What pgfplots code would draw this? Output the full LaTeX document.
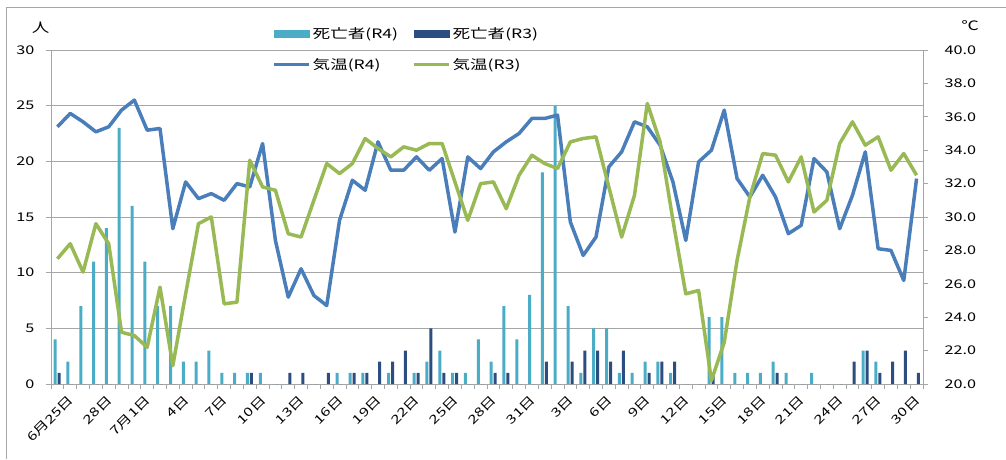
\documentclass[border=0pt]{standalone}
\usepackage{pgfplots}
\pgfplotsset{compat=1.18}
\usepackage{pgfplotstable}
\usepackage{fontspec}
\setmainfont{Noto Sans CJK JP}[FakeStretch=1.35]
\definecolor{barRfour}{HTML}{4BACC6}
\definecolor{barRthree}{HTML}{2C4D7F}
\definecolor{lineRfour}{HTML}{4A7EBB}
\definecolor{lineRthree}{HTML}{98B954}
\definecolor{gridc}{HTML}{A6A6A6}
\pgfplotstableread{
i d4 d3 t4 t3
0 4 1 35.4 27.5
1 2 0 36.2 28.4
2 7 0 35.7 26.7
3 11 0 35.1 29.6
4 14 0 35.4 28.4
5 23 0 36.4 23.1
6 16 0 37.0 22.9
7 11 0 35.2 22.2
8 7 0 35.3 25.8
9 7 0 29.3 21.1
10 2 0 32.1 25.4
11 2 0 31.1 29.6
12 3 0 31.4 30.0
13 1 0 31.0 24.8
14 1 0 32.0 24.9
15 1 1 31.8 33.4
16 1 0 34.4 31.8
17 0 0 28.6 31.6
18 0 1 25.2 29.0
19 0 1 26.9 28.8
20 0 0 25.3 31.0
21 0 1 24.7 33.2
22 1 0 29.8 32.6
23 1 1 32.2 33.2
24 1 1 31.6 34.7
25 0 2 34.5 34.1
26 1 2 32.8 33.6
27 0 3 32.8 34.2
28 1 1 33.6 34.0
29 2 5 32.8 34.4
30 3 1 33.5 34.4
31 1 1 29.1 32.1
32 1 0 33.6 29.8
33 4 0 32.9 32.0
34 2 1 33.9 32.1
35 7 1 34.5 30.5
36 4 0 35.0 32.5
37 8 0 35.9 33.7
38 19 2 35.9 33.2
39 25 0 36.1 32.9
40 7 2 29.7 34.5
41 1 3 27.7 34.7
42 5 3 28.8 34.8
43 5 2 33.0 31.8
44 1 3 33.9 28.8
45 1 0 35.7 31.3
46 2 1 35.4 36.8
47 2 2 34.3 34.5
48 1 2 32.1 29.8
49 0 0 28.6 25.4
50 0 0 33.3 25.6
51 6 1 34.0 20.2
52 6 0 36.4 22.5
53 1 0 32.3 27.4
54 1 0 31.2 31.2
55 1 0 32.5 33.8
56 2 1 31.2 33.7
57 1 0 29.0 32.1
58 0 0 29.5 33.6
59 1 0 33.5 30.3
60 0 0 32.7 31.0
61 0 0 29.3 34.4
62 0 2 31.3 35.7
63 3 3 33.9 34.3
64 2 1 28.1 34.8
65 0 2 28.0 32.8
66 0 3 26.2 33.8
67 0 1 32.3 32.5
}\data
\begin{document}
\begin{tikzpicture}
\useasboundingbox (0,0) rectangle (1006pt,459pt);
\draw[gridc, line width=0.8pt] (6pt,0pt) -- (6pt,452pt) -- (1006pt,452pt);
\begin{axis}[
  at={(51pt,75pt)}, anchor=south west,
  scale only axis, width=872pt, height=334pt,
  xmin=-0.5, xmax=67.5, ymin=0, ymax=30,
  axis y line*=left, axis x line*=bottom,
  axis line style={gridc, line width=0.8pt, -},
  ytick={0,5,...,30},
  ymajorgrids, grid style={gridc, line width=0.8pt},
  tick align=outside,
  major tick length=5pt, minor tick length=5pt,
  every major y tick/.append style={gridc, line width=0.8pt},
  xtick={0,3,...,66},
  xticklabels={6月25日,28日,7月1日,4日,7日,10日,13日,16日,19日,22日,25日,28日,31日,3日,6日,9日,12日,15日,18日,21日,24日,27日,30日},
  every major x tick/.append style={draw=none},
  minor xtick={-0.5,0.5,...,67.5},
  every minor x tick/.append style={gridc, line width=0.8pt},
  x tick label style={rotate=45, anchor=east, xshift=7pt, yshift=-16pt, font=\fontsize{12}{14}\selectfont},
  y tick label style={font=\fontsize{12}{14}\selectfont, xshift=-8pt},
  /pgf/number format/assume math mode=true,
]
\addplot[ybar, bar width=3pt, bar shift=-2.3pt, fill=barRfour, draw=none] table[x=i, y=d4] {\data};
\addplot[ybar, bar width=3pt, bar shift=1.7pt, fill=barRthree, draw=none] table[x=i, y=d3] {\data};
\end{axis}
\begin{axis}[
  at={(51pt,75pt)}, anchor=south west,
  scale only axis, width=872pt, height=334pt,
  xmin=-0.5, xmax=67.5, ymin=20, ymax=40,
  axis y line*=right, axis x line=none,
  axis line style={gridc, line width=0.8pt, -},
  ytick={20,22,...,40},
  tick align=outside, major tick length=5pt,
  every major y tick/.append style={gridc, line width=0.8pt},
  y tick label style={font=\fontsize{12}{14}\selectfont, xshift=13pt, /pgf/number format/.cd, fixed, fixed zerofill, precision=1},
  /pgf/number format/assume math mode=true,
  clip=false,
  legend style={at={(0.250,1.079)}, anchor=north west, draw=none, fill=none,
    legend columns=2, font=\fontsize{13}{15}\selectfont, row sep=14pt,
    /tikz/every even column/.append style={column sep=12pt}},
  legend cell align=left,
]
\addlegendimage{legend image code/.code={\fill[barRfour] (0pt,-3.5pt) rectangle (35pt,3.5pt);}}
\addlegendentry{死亡者(R4)}
\addlegendimage{legend image code/.code={\fill[barRthree] (0pt,-3.5pt) rectangle (35pt,3.5pt);}}
\addlegendentry{死亡者(R3)}
\addplot[lineRfour, line width=3.5pt, line join=round, mark=none,
  legend image code/.code={\draw[lineRfour, line width=3.5pt] (0pt,0pt) -- (35pt,0pt);}] table[x=i, y=t4] {\data};
\addlegendentry{気温(R4)}
\addplot[lineRthree, line width=3.5pt, line join=round, mark=none,
  legend image code/.code={\draw[lineRthree, line width=3.5pt] (0pt,0pt) -- (35pt,0pt);}] table[x=i, y=t3] {\data};
\addlegendentry{気温(R3)}
\node[font=\fontsize{13}{15}\selectfont] at (rel axis cs:-0.012,1.066) {人};
\node[font=\fontsize{13}{15}\selectfont] at (rel axis cs:1.054,1.072) {℃};
\end{axis}
\end{tikzpicture}
\end{document}
